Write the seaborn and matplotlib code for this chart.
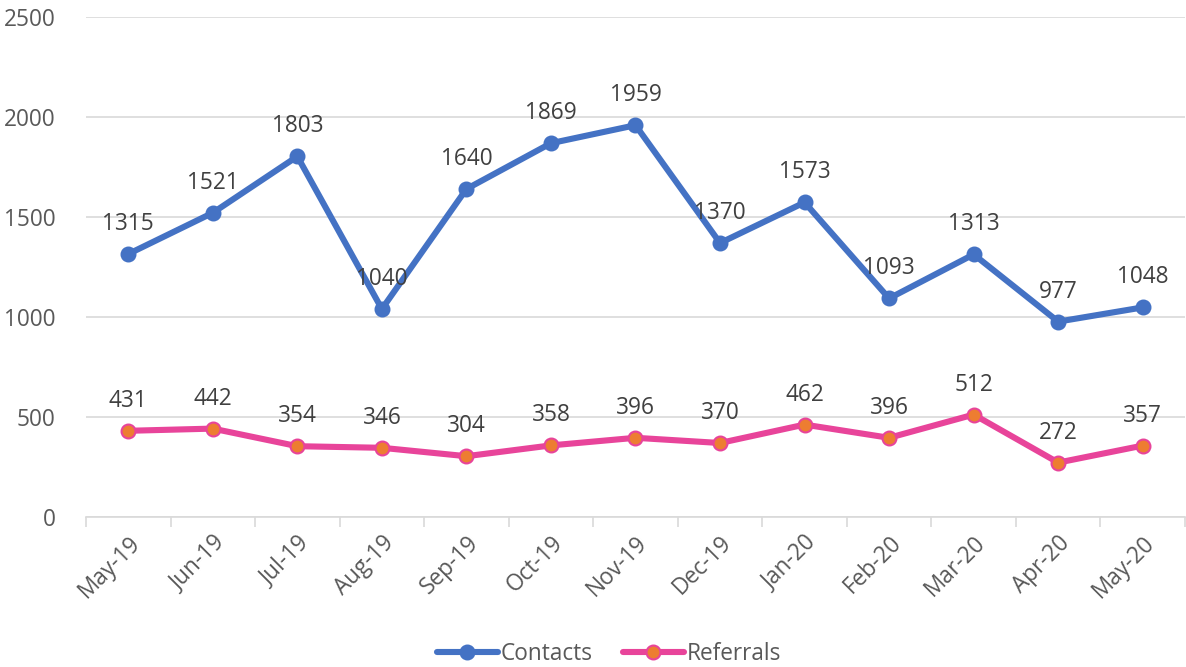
import matplotlib
matplotlib.use("Agg")
import matplotlib.pyplot as plt
import seaborn as sns
import pandas as pd
import numpy as np

months = ["May-19", "Jun-19", "Jul-19", "Aug-19", "Sep-19", "Oct-19", "Nov-19",
          "Dec-19", "Jan-20", "Feb-20", "Mar-20", "Apr-20", "May-20"]
contacts = [1315, 1521, 1803, 1040, 1640, 1869, 1959, 1370, 1573, 1093, 1313, 977, 1048]
referrals = [431, 442, 354, 346, 304, 358, 396, 370, 462, 396, 512, 272, 357]
y_ticks = [0, 500, 1000, 1500, 2000, 2500]

sns.set_theme(style="white")
plt.rcParams["font.family"] = ["Open Sans", "DejaVu Sans"]

text_color = "#595959"
grid_color = "#D9D9D9"
blue = "#4472C4"
pink = "#E8449A"
orange = "#ED7D31"
fs = 16.3

df = pd.DataFrame({
    "idx": list(range(len(months))) * 2,
    "value": contacts + referrals,
    "series": ["Contacts"] * len(months) + ["Referrals"] * len(months),
})

fig = plt.figure(figsize=(11.86, 6.67), dpi=100)
ax = fig.add_axes([86 / 1186, 1 - 517 / 667, 1099 / 1186, 500 / 667])

styles = {
    "Contacts": dict(color=blue, mfc=blue, mec=blue),
    "Referrals": dict(color=pink, mfc=orange, mec=pink),
}
for name, st in styles.items():
    sub = df[df["series"] == name]
    sns.lineplot(data=sub, x="idx", y="value", ax=ax, color=st["color"],
                 linewidth=4.4, marker="o", markersize=10,
                 markerfacecolor=st["mfc"], markeredgecolor=st["mec"],
                 markeredgewidth=1.5, label=name, zorder=3)

for series in (contacts, referrals):
    for i, v in enumerate(series):
        ax.annotate(str(v), (i, v), xytext=(0, 30), textcoords="offset pixels",
                    ha="center", va="center", fontsize=fs, color="#404040")

ax.set_xlim(-0.5, len(months) - 0.5)
ax.set_ylim(0, 2500)
ax.set_yticks(y_ticks)
ax.set_yticklabels([str(t) for t in y_ticks], fontsize=fs, color=text_color)
ax.set_xticks(range(len(months)))
ax.set_xticklabels(months, rotation=45, ha="right", rotation_mode="anchor",
                   fontsize=fs, color=text_color)
ax.set_xticks(np.arange(-0.5, len(months), 1.0), minor=True)
ax.tick_params(axis="x", which="major", length=0, pad=10)
ax.tick_params(axis="x", which="minor", length=7, width=1.2, color=grid_color,
               direction="out", bottom=True)
ax.tick_params(axis="y", length=0, pad=22)
ax.set_xlabel("")
ax.set_ylabel("")

ax.yaxis.grid(True, color=grid_color, linewidth=1.2)
ax.set_axisbelow(True)
for side in ("top", "right", "left"):
    ax.spines[side].set_visible(False)
ax.spines["bottom"].set_color(grid_color)
ax.spines["bottom"].set_linewidth(1.2)

handles, labels = ax.get_legend_handles_labels()
ax.get_legend().remove()
leg = fig.legend(handles, labels, loc="center", bbox_to_anchor=(609 / 1186, 1 - 654 / 667),
                 ncol=2, frameon=False, fontsize=fs, handlelength=2.7,
                 columnspacing=1.3, handletextpad=0.15)
for t in leg.get_texts():
    t.set_color(text_color)

fig.savefig("out.png", dpi=100)
